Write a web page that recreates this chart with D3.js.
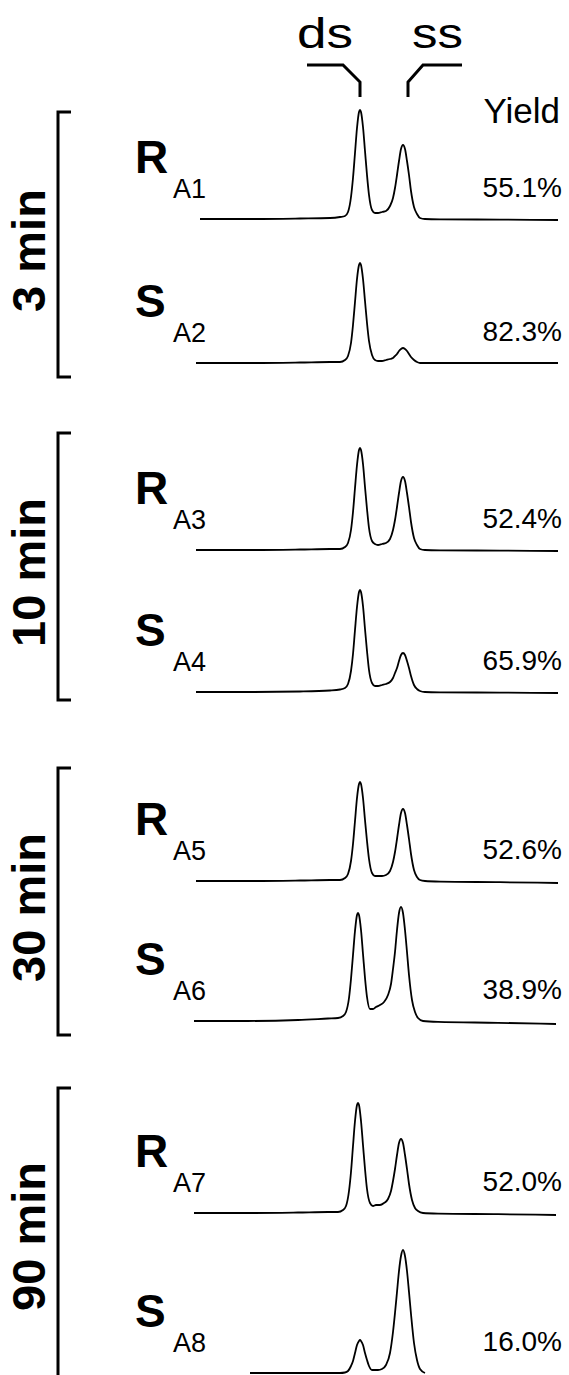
<!DOCTYPE html>
<html>
<head>
<meta charset="utf-8">
<script src="https://cdn.jsdelivr.net/npm/d3@7"></script>
<style>
body { margin: 0; background: #fff; }
text { font-family: "Liberation Sans", Arial, sans-serif; fill: #000; }
</style>
</head>
<body>
<script>
// sample times (min) shared by every trace
var times = [0.3, 0.7, 5.7, 10.7, 13.7, 14.7, 15.2, 15.5, 15.8, 16.0, 16.2, 16.4, 16.6, 16.7, 16.8, 17.0,
    17.2, 17.4, 17.6, 17.9, 18.2, 18.5, 18.9, 19.3, 19.7, 20.0, 20.2, 20.4, 20.6, 20.8, 21.0, 21.2,
    21.4, 21.6, 21.8, 22.1, 22.4, 22.7, 23.2, 24.7, 30.7, 36.5];

// absorbance of each trace at those times (null = not recorded)
var traceA1 = [null, 0, 0, 0.005, 0.01, 0.02, 0.03, 0.07, 0.22, 0.41, 0.66, 0.91, 1.07, 1.09, 1.07, 0.92, 0.68, 0.44, 0.24, 0.09, 0.06, 0.06, 0.07, 0.08, 0.13, 0.21, 0.31, 0.44, 0.58, 0.70, 0.74, 0.70, 0.58, 0.44, 0.28, 0.12, 0.05, 0.01, 0, -0.003, -0.006, -0.01];
var traceA2 = [0, 0, 0, 0.005, 0.01, 0.01, 0.03, 0.07, 0.20, 0.38, 0.61, 0.84, 0.98, 1.00, 0.98, 0.84, 0.62, 0.40, 0.22, 0.08, 0.03, 0.02, 0.02, 0.03, 0.04, 0.05, 0.07, 0.09, 0.12, 0.14, 0.15, 0.14, 0.12, 0.09, 0.06, 0.03, 0.01, 0, 0, 0, 0, 0];
var traceA3 = [0, 0, 0, 0.005, 0.01, 0.01, 0.03, 0.07, 0.20, 0.38, 0.62, 0.85, 1.00, 1.02, 1.00, 0.86, 0.63, 0.41, 0.22, 0.09, 0.06, 0.05, 0.06, 0.07, 0.11, 0.20, 0.30, 0.43, 0.57, 0.69, 0.73, 0.69, 0.57, 0.43, 0.28, 0.12, 0.05, 0.01, 0, -0.003, -0.006, -0.01];
var traceA4 = [0, 0, 0, 0.005, 0.015, 0.025, 0.04, 0.08, 0.21, 0.38, 0.62, 0.85, 1.00, 1.02, 1.00, 0.86, 0.63, 0.41, 0.22, 0.09, 0.06, 0.06, 0.07, 0.08, 0.10, 0.14, 0.19, 0.24, 0.31, 0.37, 0.39, 0.37, 0.31, 0.24, 0.16, 0.07, 0.03, 0.01, 0, -0.003, -0.006, -0.01];
var traceA5 = [0, 0, 0, 0.005, 0.01, 0.01, 0.03, 0.07, 0.20, 0.37, 0.60, 0.83, 0.97, 0.99, 0.97, 0.83, 0.61, 0.40, 0.22, 0.08, 0.05, 0.05, 0.05, 0.06, 0.10, 0.19, 0.29, 0.42, 0.56, 0.68, 0.72, 0.68, 0.56, 0.42, 0.27, 0.11, 0.04, 0.01, 0, -0.006, -0.012, -0.02];
var traceA6 = [0, 0, 0, 0.01, 0.025, 0.03, 0.05, 0.09, 0.23, 0.42, 0.66, 0.90, 1.06, 1.08, 1.06, 0.91, 0.67, 0.43, 0.24, 0.12, 0.12, 0.14, 0.16, 0.19, 0.26, 0.37, 0.52, 0.69, 0.91, 1.08, 1.14, 1.08, 0.91, 0.69, 0.46, 0.21, 0.09, 0.03, 0, -0.009, -0.018, -0.03];
var traceA7 = [0, 0, 0, 0.005, 0.01, 0.01, 0.03, 0.07, 0.22, 0.41, 0.67, 0.92, 1.08, 1.10, 1.08, 0.92, 0.68, 0.44, 0.24, 0.10, 0.07, 0.08, 0.08, 0.10, 0.14, 0.22, 0.32, 0.44, 0.58, 0.70, 0.74, 0.70, 0.58, 0.44, 0.29, 0.13, 0.05, 0.02, 0, -0.006, -0.012, -0.02];
var traceA8 = [null, null, 0, 0, 0, 0, 0.005, 0.02, 0.07, 0.12, 0.20, 0.28, 0.32, 0.33, 0.32, 0.28, 0.20, 0.13, 0.07, 0.03, 0.03, 0.03, 0.04, 0.08, 0.20, 0.41, 0.60, 0.81, 1.02, 1.17, 1.23, 1.17, 1.02, 0.81, 0.59, 0.30, 0.13, 0.04, 0, null, null, null];

var traces = [traceA1, traceA2, traceA3, traceA4, traceA5, traceA6, traceA7, traceA8];
var timeShift = [0, 0, 0, 0, 0, -0.2, -0.2, 0]; // small retention drift (min)

var sampleIds = ["A1", "A2", "A3", "A4", "A5", "A6", "A7", "A8"];
var enantiomers = ["R", "S", "R", "S", "R", "S", "R", "S"];
var yields = [55.1, 82.3, 52.4, 65.9, 52.6, 38.9, 52.0, 16.0];
var groups = ["3 min", "10 min", "30 min", "90 min"];
var peakNames = ["ds", "ss"];

window.onload = function(){
    var w = 569, h = 1375;

    //layout of the rows (baseline y of every trace) and the time brackets
    var rowBase = [219, 363, 550, 692, 881, 1021, 1213, 1373];
    var bracketTop = [112, 433, 768, 1088];
    var bracketBottom = [377, 700, 1035, 1385];

    var svg = d3.select("body")
        .append("svg")
        .attr("width", w)
        .attr("height", h);

    //time axis shared by all traces
    var x = d3.scaleLinear()
        .domain([0, 36.5])
        .range([193, 558]);

    var fmt = d3.format(".1f");

    var rows = svg.selectAll(".row")
        .data(traces)
        .enter()
        .append("g")
        .attr("class", "row");

    rows.each(function(d, i){
        var g = d3.select(this);
        var y = d3.scaleLinear()
            .domain([0, 1])
            .range([rowBase[i], rowBase[i] - 100]);

        var line = d3.line()
            .defined(function(v){ return v !== null; })
            .x(function(v, j){ return x(times[j] + timeShift[i]); })
            .y(function(v){ return y(v); })
            .curve(d3.curveMonotoneX);

        g.append("path")
            .datum(d)
            .attr("d", line)
            .attr("fill", "none")
            .attr("stroke", "#000")
            .attr("stroke-width", 1.8)
            .attr("stroke-linejoin", "round");

        //R / S label with sample subscript
        g.append("text")
            .attr("x", 135)
            .attr("y", rowBase[i] - 46)
            .attr("font-size", 46)
            .attr("font-weight", "bold")
            .text(enantiomers[i]);

        g.append("text")
            .attr("x", 173)
            .attr("y", rowBase[i] - 21)
            .attr("font-size", 27)
            .text(sampleIds[i]);

        g.append("text")
            .attr("x", 562)
            .attr("y", rowBase[i] - 22)
            .attr("font-size", 28)
            .attr("text-anchor", "end")
            .text(fmt(yields[i]) + "%");
    });

    //group brackets on the left
    var grp = svg.selectAll(".grp")
        .data(groups)
        .enter()
        .append("g")
        .attr("class", "grp");

    grp.append("path")
        .attr("d", function(d, i){
            return "M71," + bracketTop[i] + "H58V" + bracketBottom[i] + "H71";
        })
        .attr("fill", "none")
        .attr("stroke", "#000")
        .attr("stroke-width", 3);

    grp.append("text")
        .attr("transform", function(d, i){
            var cy = (bracketTop[i] + Math.min(bracketBottom[i], 1373)) / 2 + 6;
            return "translate(45," + cy + ") rotate(-90)";
        })
        .attr("text-anchor", "middle")
        .attr("font-size", 47)
        .attr("font-weight", "bold")
        .text(function(d){ return d; });

    //ds / ss header with pointers to the peaks
    var dsX = x(16.7), ssX = x(21.5);
    svg.append("path")
        .attr("d", "M" + (dsX - 53) + ",65H" + (dsX - 17) + "L" + dsX + ",82V97")
        .attr("fill", "none")
        .attr("stroke", "#000")
        .attr("stroke-width", 3);
    svg.append("path")
        .attr("d", "M" + ssX + ",97V82L" + (ssX + 15) + ",65H" + (ssX + 54))
        .attr("fill", "none")
        .attr("stroke", "#000")
        .attr("stroke-width", 3);

    svg.selectAll(".peakName")
        .data(peakNames)
        .enter()
        .append("text")
        .attr("class", "peakName")
        .attr("x", function(d, i){ return i === 0 ? 297 : 412; })
        .attr("y", 48)
        .attr("font-size", 42)
        .attr("textLength", function(d, i){ return i === 0 ? 56 : 51; })
        .attr("lengthAdjust", "spacingAndGlyphs")
        .text(function(d){ return d; });

    svg.append("text")
        .attr("x", 560)
        .attr("y", 123)
        .attr("font-size", 35)
        .attr("text-anchor", "end")
        .text("Yield");
};
</script>
</body>
</html>
